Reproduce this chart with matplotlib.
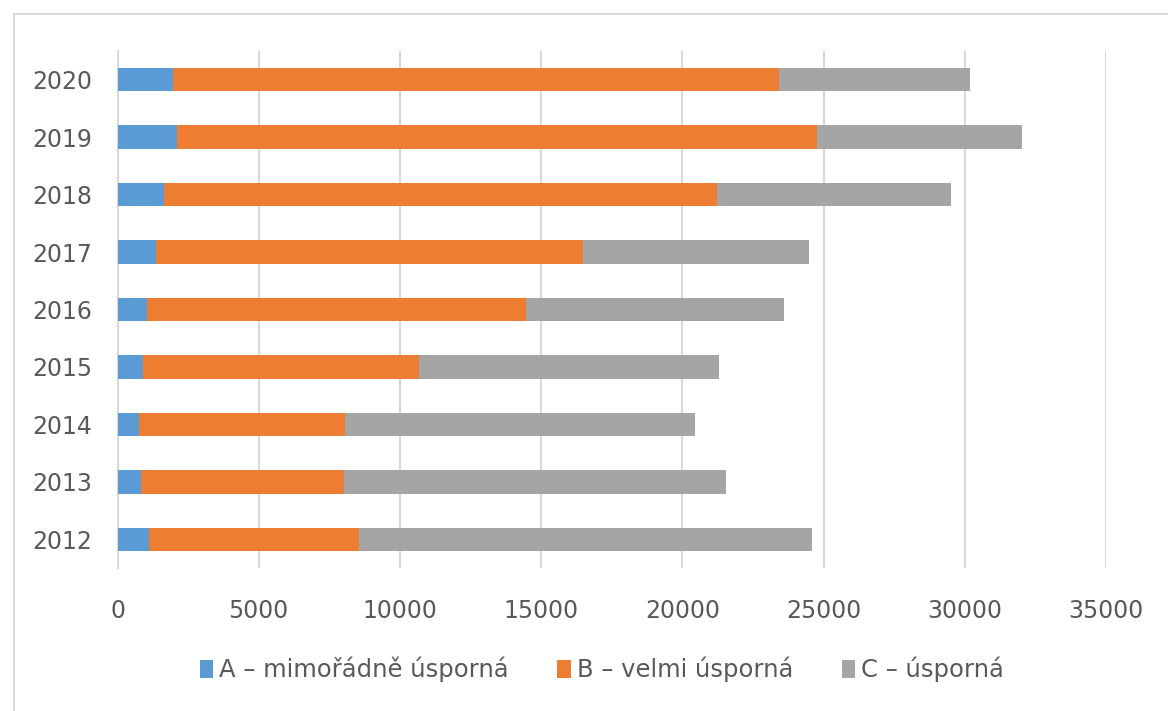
import matplotlib
matplotlib.use("Agg")
import matplotlib.pyplot as plt
from matplotlib.patches import Rectangle
import numpy as np

plt.rcParams['font.family'] = ['Liberation Sans Narrow', 'DejaVu Sans']

years = ["2012", "2013", "2014", "2015", "2016", "2017", "2018", "2019", "2020"]
series_names = ["A – mimořádně úsporná", "B – velmi úsporná", "C – úsporná"]
a_vals = [1105, 825, 775, 920, 1046, 1378, 1650, 2097, 1977]
b_vals = [7457, 7178, 7278, 9754, 13429, 15088, 19587, 22680, 21459]
c_vals = [16042, 13546, 12386, 10613, 9122, 8013, 8275, 7232, 6734]
x_ticks = [0, 5000, 10000, 15000, 20000, 25000, 30000, 35000]
colors = ["#5B9BD5", "#ED7D31", "#A5A5A5"]

W, H = 1168, 711
fig = plt.figure(figsize=(W / 100, H / 100), dpi=100)
fig.patch.set_facecolor("white")

# outer chart border (cropped at right/bottom)
fig.patches.append(Rectangle((14 / W, -0.1), 1.2, 1 - 14 / H + 0.1,
                             transform=fig.transFigure, fill=False,
                             edgecolor="#D9D9D9", linewidth=1.5))

ax = fig.add_axes([117.5 / W, 1 - 568 / H, (1106 - 117.5) / W, (568 - 51) / H])
y = np.arange(len(years))
h = 0.41
a = np.array(a_vals)
b = np.array(b_vals)
c = np.array(c_vals)
ax.barh(y, a, height=h, color=colors[0], label=series_names[0], zorder=3)
ax.barh(y, b, left=a, height=h, color=colors[1], label=series_names[1], zorder=3)
ax.barh(y, c, left=a + b, height=h, color=colors[2], label=series_names[2], zorder=3)

ax.set_xlim(0, 35000)
ax.set_ylim(-0.5, len(years) - 0.5)
ax.set_xticks(x_ticks)
ax.set_xticklabels([str(t) for t in x_ticks])
ax.set_yticks(y)
ax.set_yticklabels(years)
ax.xaxis.grid(True, color="#D9D9D9", linewidth=1.5, zorder=0)
ax.set_axisbelow(True)
for s in ["top", "right", "bottom"]:
    ax.spines[s].set_visible(False)
ax.spines["left"].set_color("#D9D9D9")
ax.spines["left"].set_linewidth(1.5)
ax.tick_params(axis="both", length=0, labelsize=17, labelcolor="#595959")
ax.tick_params(axis="x", pad=22)
ax.tick_params(axis="y", pad=18)

leg = ax.legend(loc="center", bbox_to_anchor=(0.49, -0.196),
                ncol=3, frameon=False, fontsize=17.5, handlelength=0.55, handleheight=0.75,
                handletextpad=0.25, columnspacing=2.0, labelcolor="#595959")

fig.savefig("out.png", dpi=100)
